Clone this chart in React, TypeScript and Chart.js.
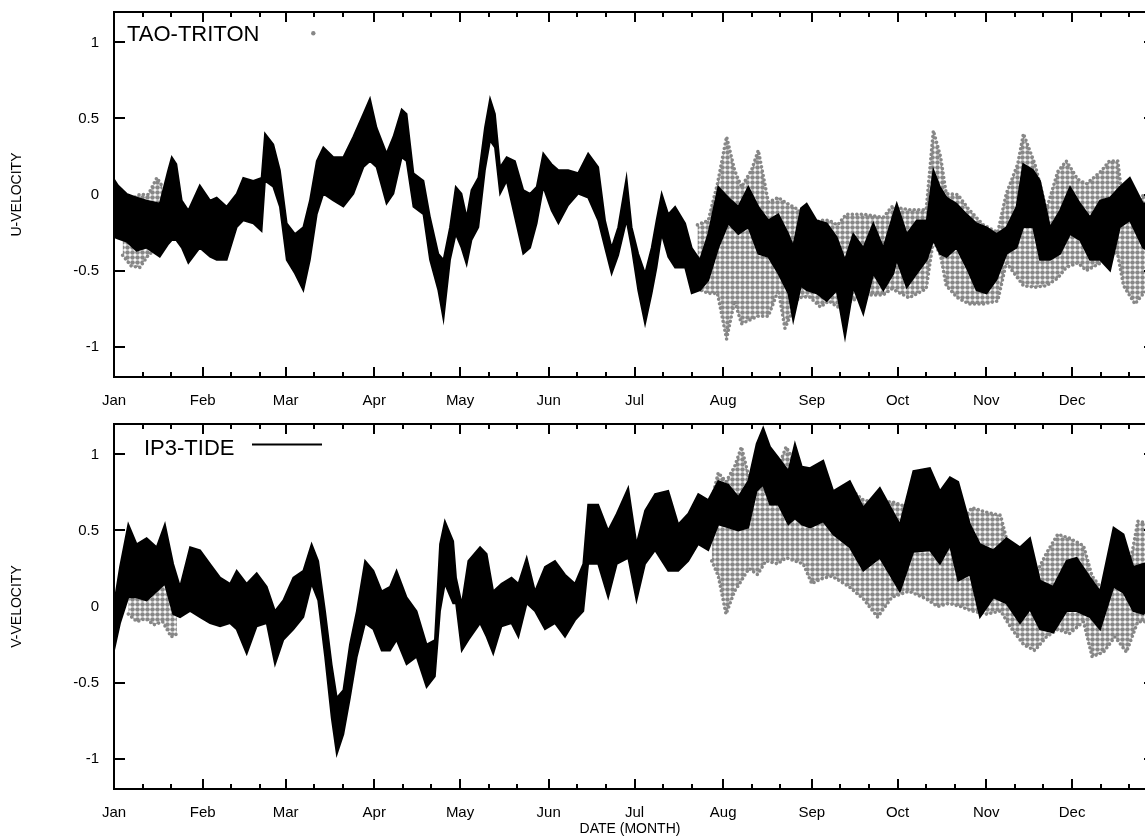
import React, { useEffect, useRef } from 'react';
import { Chart, registerables } from 'chart.js';

Chart.register(...registerables);

// ---- axis definitions (day of year, leap year) ----
const MONTH_STARTS = [0, 31, 60, 91, 121, 152, 182, 213, 244, 274, 305, 335];
const MONTH_LABELS = ['Jan', 'Feb', 'Mar', 'Apr', 'May', 'Jun', 'Jul', 'Aug', 'Sep', 'Oct', 'Nov', 'Dec'];
const MINOR_TICK_DAYS = MONTH_STARTS.flatMap((d) => [d + 10, d + 20]);
const Y_TICKS = [-1, -0.5, 0, 0.5, 1];
const X_MAX = 364;

// ---- U-velocity, IP3-TIDE (black band: upper / lower envelope) ----
const U_DAYS = [0, 1.4, 4.4, 7.9, 11.4, 16, 18.8, 20.2, 21.8, 23.7,
  26, 30, 33.6, 35.9, 39.4, 42.9, 45.2, 48.7, 51.6, 52.8,
  55.7, 58, 60.4, 63.3, 66.2, 68.5, 70.9, 73.2, 76.7, 80.2,
  83.7, 87.2, 89.5, 91.8, 95.3, 97.7, 100.6, 102.3, 104.7, 108.2,
  110.5, 113.4, 115.2, 117.5, 119.5, 121.5, 123.3, 125, 127.4, 129.7,
  131.5, 133.2, 135, 137.3, 140.2, 143.1, 145.5, 147.8, 150.1, 153,
  155.4, 158.8, 162.3, 165.8, 169.3, 171.7, 174, 176.3, 179.2, 181,
  183.3, 185.7, 188, 189.7, 191.5, 193.8, 196.2, 199.7, 202, 204.9,
  207.8, 211.3, 214.8, 218.3, 221.8, 225.3, 228.8, 232.3, 235.8, 237.5,
  240.2, 242.2, 245.7, 249.2, 252.7, 255.6, 258.5, 262, 265.5, 269,
  272.5, 273.7, 277.2, 280.7, 284.2, 286.5, 288.8, 291.1, 294.6, 298.1,
  301.6, 305.1, 308.6, 312.1, 315.6, 317.9, 321.4, 323.8, 327.3, 330.8,
  334.3, 337.8, 341.3, 344.8, 348.3, 351.7, 355.2, 359.8, 364];
const U_HI = [0.10, 0.06, 0.005, -0.02, -0.04, -0.06, 0.15, 0.245, 0.20, -0.04,
  -0.105, 0.06, -0.04, -0.02, -0.08, 0.005, 0.11, 0.09, 0.11, 0.40,
  0.33, 0.16, -0.19, -0.26, -0.215, -0.04, 0.22, 0.31, 0.245, 0.245,
  0.38, 0.53, 0.63, 0.44, 0.27, 0.38, 0.56, 0.53, 0.14, 0.09,
  -0.15, -0.39, -0.43, -0.215, 0.05, 0.005, -0.15, 0.03, 0.11, 0.44,
  0.63, 0.53, 0.18, 0.245, 0.22, 0.03, 0.005, 0.05, 0.27, 0.20,
  0.16, 0.16, 0.14, 0.27, 0.18, -0.17, -0.35, -0.215, 0.11, -0.215,
  -0.39, -0.52, -0.35, -0.17, 0.005, -0.13, -0.08, -0.19, -0.35, -0.43,
  -0.26, 0.05, -0.02, -0.08, 0.05, -0.08, -0.17, -0.13, -0.26, -0.34,
  -0.09, -0.06, -0.17, -0.19, -0.28, -0.43, -0.26, -0.35, -0.19, -0.35,
  -0.13, -0.06, -0.26, -0.17, -0.17, 0.16, 0.05, -0.02, -0.06, -0.13,
  -0.19, -0.215, -0.26, -0.215, -0.08, 0.20, 0.16, 0.09, -0.215, -0.105,
  0.05, -0.06, -0.15, -0.04, -0.02, 0.05, 0.11, -0.06, -0.05];
const U_LO = [-0.28, -0.29, -0.31, -0.37, -0.35, -0.41, -0.33, -0.30, -0.30, -0.35,
  -0.45, -0.35, -0.41, -0.43, -0.43, -0.215, -0.17, -0.19, -0.24, 0.09,
  0.05, -0.08, -0.43, -0.52, -0.63, -0.43, -0.13, 0.005, -0.04, -0.08,
  0.005, 0.18, 0.22, 0.18, -0.06, 0.005, 0.245, 0.22, -0.08, -0.13,
  -0.43, -0.63, -0.82, -0.43, -0.26, -0.35, -0.46, -0.30, -0.215, 0.16,
  0.355, 0.31, 0.005, 0.09, -0.15, -0.39, -0.35, -0.19, 0.05, -0.105,
  -0.19, -0.07, 0.005, -0.02, -0.17, -0.35, -0.52, -0.40, -0.17, -0.35,
  -0.63, -0.85, -0.65, -0.48, -0.26, -0.41, -0.48, -0.48, -0.65, -0.63,
  -0.565, -0.35, -0.19, -0.26, -0.215, -0.39, -0.41, -0.52, -0.65, -0.83,
  -0.60, -0.63, -0.65, -0.70, -0.63, -0.94, -0.61, -0.785, -0.52, -0.63,
  -0.52, -0.43, -0.61, -0.52, -0.43, -0.30, -0.39, -0.41, -0.35, -0.48,
  -0.63, -0.65, -0.56, -0.39, -0.35, -0.215, -0.215, -0.43, -0.43, -0.39,
  -0.26, -0.30, -0.43, -0.43, -0.50, -0.215, -0.17, -0.35, -0.40];

// ---- U-velocity, TAO-TRITON observations (visible grey cloud envelope) ----
const U_OBS_JAN_DAYS = [3, 6, 9, 12, 15, 17];
const U_OBS_JAN_HI = [-0.05, -0.03, 0.0, 0.0, 0.11, 0.05];
const U_OBS_JAN_LO = [-0.40, -0.47, -0.48, -0.40, -0.35, -0.30];
const U_OBS_DAYS = [204, 207.8, 211, 214.2, 217, 219.4, 222.9, 225.3, 228.8, 232.3,
  234.6, 239.3, 243, 247, 250, 253, 256, 262, 269, 272,
  278, 284, 286.5, 289, 291, 295, 299, 304, 309, 312,
  316, 318, 322, 326, 330, 333, 337, 340, 345, 348,
  351, 353, 357, 360, 364];
const U_OBS_HI = [-0.2, -0.17, 0.07, 0.38, 0.16, 0.05, 0.16, 0.29, -0.05, -0.02,
  -0.05, -0.1, -0.2, -0.17, -0.17, -0.2, -0.13, -0.13, -0.15, -0.08,
  -0.1, -0.1, 0.42, 0.25, 0.005, 0.0, -0.1, -0.2, -0.25, 0.005,
  0.2, 0.40, 0.2, -0.1, 0.15, 0.22, 0.1, 0.07, 0.15, 0.22,
  0.22, -0.1, -0.1, 0.0, -0.1];
const U_OBS_LO = [-0.62, -0.65, -0.65, -0.95, -0.70, -0.85, -0.82, -0.80, -0.80, -0.63,
  -0.88, -0.68, -0.67, -0.74, -0.70, -0.74, -0.72, -0.66, -0.66, -0.62,
  -0.68, -0.62, -0.30, -0.40, -0.6, -0.68, -0.72, -0.72, -0.70, -0.45,
  -0.55, -0.6, -0.61, -0.60, -0.55, -0.48, -0.45, -0.50, -0.45, -0.35,
  -0.40, -0.60, -0.72, -0.65, -0.6];

// ---- V-velocity, IP3-TIDE ----
const V_DAYS = [0, 2.1, 5, 7.9, 11.4, 14.9, 17.8, 20.7, 23.1, 26.6,
  30.1, 33.6, 37.1, 40.6, 42.9, 46.4, 49.9, 53.4, 56.3, 59.2,
  62.7, 66.2, 69.1, 71.4, 73.8, 76.1, 77.9, 80.2, 82.5, 84.9,
  87.8, 90.7, 93.6, 96.5, 98.8, 102.3, 105.8, 109.3, 112.2, 114,
  115.7, 118.6, 119.6, 121.6, 123.9, 128, 130.3, 132.6, 135.5, 139,
  141.4, 144.3, 147.2, 150.7, 154.2, 157.7, 161.2, 164.1, 165.8, 169.3,
  172.8, 175.8, 179.8, 182.7, 185.7, 189.2, 193.8, 197.3, 200.8, 204.3,
  207.8, 211.3, 214.8, 218.3, 221.8, 224.7, 227, 229.4, 232.3, 235.8,
  238.1, 240.5, 243.4, 248, 251.5, 257.3, 262, 267.8, 274.8, 279.5,
  285.3, 288.8, 292.3, 295.2, 299.3, 302.8, 307.5, 312.1, 316.8, 320.3,
  323.8, 328.4, 333.1, 336.6, 341.3, 344.8, 349.5, 353, 356.4, 359.9,
  364];
const V_HI = [0.016, 0.26, 0.54, 0.41, 0.45, 0.39, 0.54, 0.28, 0.13, 0.39,
  0.37, 0.28, 0.19, 0.15, 0.235, 0.15, 0.22, 0.13, -0.03, 0.04,
  0.19, 0.235, 0.41, 0.30, -0.03, -0.38, -0.60, -0.55, -0.25, -0.03,
  0.30, 0.235, 0.10, 0.13, 0.235, 0.06, -0.03, -0.25, -0.22, 0.41,
  0.56, 0.43, 0.19, 0.016, 0.30, 0.39, 0.345, 0.10, 0.15, 0.19,
  0.15, 0.32, 0.10, 0.26, 0.30, 0.21, 0.15, 0.28, 0.67, 0.67,
  0.50, 0.61, 0.78, 0.41, 0.63, 0.74, 0.76, 0.54, 0.61, 0.74,
  0.70, 0.825, 0.80, 0.72, 0.825, 1.07, 1.175, 1.05, 0.98, 0.89,
  1.07, 0.92, 0.91, 0.96, 0.76, 0.825, 0.65, 0.78, 0.54, 0.89,
  0.91, 0.76, 0.85, 0.82, 0.54, 0.41, 0.37, 0.45, 0.39, 0.45,
  0.17, 0.13, 0.30, 0.32, 0.19, 0.10, 0.52, 0.475, 0.26, 0.28,
  0.30];
const V_LO = [-0.29, -0.11, 0.06, 0.06, 0.04, 0.10, 0.15, -0.05, -0.07, -0.03,
  -0.07, -0.11, -0.13, -0.11, -0.15, -0.31, -0.13, -0.11, -0.38, -0.22,
  -0.15, -0.07, 0.15, 0.04, -0.33, -0.73, -0.97, -0.84, -0.60, -0.33,
  -0.11, -0.15, -0.29, -0.29, -0.22, -0.38, -0.33, -0.53, -0.46, -0.03,
  0.15, 0.02, 0.02, -0.29, -0.22, -0.11, -0.20, -0.31, -0.13, -0.11,
  -0.20, 0.02, -0.03, -0.15, -0.11, -0.20, -0.09, -0.03, 0.28, 0.28,
  0.06, 0.28, 0.32, 0.04, 0.28, 0.37, 0.235, 0.235, 0.30, 0.41,
  0.37, 0.54, 0.52, 0.50, 0.52, 0.76, 0.80, 0.67, 0.67, 0.54,
  0.58, 0.54, 0.52, 0.56, 0.475, 0.39, 0.235, 0.32, 0.10, 0.36,
  0.37, 0.28, 0.40, 0.17, 0.21, -0.07, 0.06, 0.02, -0.11, -0.02,
  -0.15, -0.17, -0.03, -0.03, -0.07, -0.15, 0.13, 0.09, -0.03, -0.05,
  0.02];

// ---- V-velocity, TAO-TRITON observations ----
const V_OBS_JAN_DAYS = [5, 8, 11, 14, 17, 20, 22];
const V_OBS_JAN_HI = [0.2, 0.15, 0.2, 0.18, 0.30, 0.25, 0.15];
const V_OBS_JAN_LO = [-0.05, -0.1, -0.08, -0.12, -0.10, -0.20, -0.18];
const V_OBS_DAYS = [209, 211.3, 214, 217, 219.4, 222, 225, 228, 232, 235,
  238, 241, 244, 247, 251, 257, 262, 267, 272, 278,
  284, 288, 292, 296, 300, 305, 310, 314, 318, 322,
  326, 330, 334, 339, 342, 346, 350, 354, 358, 361,
  364];
const V_OBS_HI = [0.7, 0.88, 0.82, 0.92, 1.05, 0.85, 0.85, 0.75, 0.9, 1.05,
  0.95, 0.75, 0.6, 0.62, 0.69, 0.78, 0.7, 0.68, 0.69, 0.65,
  0.6, 0.5, 0.45, 0.55, 0.65, 0.62, 0.6, 0.3, 0.25, 0.2,
  0.35, 0.475, 0.45, 0.4, 0.2, 0.1, 0.235, 0.15, 0.56, 0.55,
  0.5];
const V_OBS_LO = [0.30, 0.20, -0.05, 0.10, 0.17, 0.25, 0.21, 0.3, 0.28, 0.32,
  0.30, 0.28, 0.15, 0.18, 0.2, 0.13, 0.05, -0.07, 0.06, 0.1,
  0.05, 0.0, 0.02, 0.0, -0.03, -0.05, -0.03, -0.15, -0.25, -0.29,
  -0.2, -0.15, -0.18, -0.10, -0.33, -0.30, -0.2, -0.30, -0.1, -0.1,
  -0.1];

const FONT = '"Liberation Sans", Arial, Helvetica, sans-serif';
const OBS_GRAY = '#878787';
const CANVAS_W = 1175;

if (typeof document !== 'undefined') {
  document.body.style.margin = '0';
  document.body.style.overflow = 'hidden';
  document.documentElement.style.overflow = 'hidden';
}

const toPoints = (days: number[], vals: number[]) => days.map((d, i) => ({ x: d, y: vals[i] }));

function dotPattern(): any {
  const c = document.createElement('canvas');
  c.width = 5;
  c.height = 5;
  const g = c.getContext('2d');
  if (!g) return OBS_GRAY;
  g.fillStyle = OBS_GRAY;
  g.beginPath();
  g.arc(2.5, 2.5, 2.3, 0, Math.PI * 2);
  g.fill();
  return g.createPattern(c, 'repeat') || OBS_GRAY;
}

const gnuFrame = {
  id: 'gnuFrame',
  afterDraw(chart: any, _args: any, opts: any) {
    const { ctx, chartArea: a } = chart;
    const xs = chart.scales.x;
    const ys = chart.scales.y;
    ctx.save();
    ctx.strokeStyle = '#000';
    ctx.lineWidth = 2;
    ctx.beginPath();
    Y_TICKS.forEach((v) => {
      const p = Math.round(ys.getPixelForValue(v));
      ctx.moveTo(a.left, p);
      ctx.lineTo(a.left + 11, p);
      ctx.moveTo(a.right, p);
      ctx.lineTo(a.right - 11, p);
    });
    MONTH_STARTS.forEach((d) => {
      const p = Math.round(xs.getPixelForValue(d));
      ctx.moveTo(p, a.bottom);
      ctx.lineTo(p, a.bottom - 10);
      ctx.moveTo(p, a.top);
      ctx.lineTo(p, a.top + 10);
    });
    MINOR_TICK_DAYS.forEach((d) => {
      const p = Math.round(xs.getPixelForValue(d));
      ctx.moveTo(p, a.bottom);
      ctx.lineTo(p, a.bottom - 5);
      ctx.moveTo(p, a.top);
      ctx.lineTo(p, a.top + 5);
    });
    ctx.stroke();
    ctx.strokeRect(a.left, a.top, a.right - a.left, a.bottom - a.top);

    // key
    ctx.fillStyle = '#000';
    ctx.font = `22px ${FONT}`;
    ctx.textAlign = 'left';
    ctx.textBaseline = 'alphabetic';
    ctx.fillText(opts.keyText, a.left + opts.keyDx, a.top + opts.keyDy);
    if (opts.keyKind === 'point') {
      ctx.fillStyle = OBS_GRAY;
      ctx.beginPath();
      ctx.arc(a.left + 199.3, a.top + 21.3, 2.2, 0, Math.PI * 2);
      ctx.fill();
    } else {
      ctx.beginPath();
      ctx.moveTo(a.left + 138, a.top + 20.5);
      ctx.lineTo(a.left + 208, a.top + 20.5);
      ctx.stroke();
    }

    // axis titles
    ctx.fillStyle = '#000';
    ctx.font = `14px ${FONT}`;
    ctx.textAlign = 'center';
    ctx.textBaseline = 'middle';
    ctx.save();
    ctx.translate(17, (a.top + a.bottom) / 2);
    ctx.rotate(-Math.PI / 2);
    ctx.fillText(opts.yTitle, 0, 0);
    ctx.restore();
    if (opts.xTitle) {
      ctx.fillText(opts.xTitle, 630, opts.xTitleY);
    }
    ctx.restore();
  },
};

function buildConfig(kind: 'u' | 'v', height: number): any {
  const isU = kind === 'u';
  const pattern = dotPattern();
  const xH = height - 12 - 365;
  const black = { borderColor: '#000', borderWidth: 1.8, pointRadius: 0, tension: 0 };
  const obs = {
    borderColor: OBS_GRAY, borderWidth: 3.6, borderDash: [0, 4.5], borderCapStyle: 'round',
    pointRadius: 0, tension: 0,
  };
  const datasets = [
    { label: 'IP3-TIDE', data: toPoints(isU ? U_DAYS : V_DAYS, isU ? U_HI : V_HI), ...black, fill: false },
    { label: 'IP3-TIDE low', data: toPoints(isU ? U_DAYS : V_DAYS, isU ? U_LO : V_LO), ...black, fill: '-1', backgroundColor: '#000' },
    { label: 'TAO-TRITON jan', data: toPoints(isU ? U_OBS_JAN_DAYS : V_OBS_JAN_DAYS, isU ? U_OBS_JAN_HI : V_OBS_JAN_HI), ...obs, fill: false },
    { label: 'TAO-TRITON jan low', data: toPoints(isU ? U_OBS_JAN_DAYS : V_OBS_JAN_DAYS, isU ? U_OBS_JAN_LO : V_OBS_JAN_LO), ...obs, fill: '-1', backgroundColor: pattern },
    { label: 'TAO-TRITON', data: toPoints(isU ? U_OBS_DAYS : V_OBS_DAYS, isU ? U_OBS_HI : V_OBS_HI), ...obs, fill: false },
    { label: 'TAO-TRITON low', data: toPoints(isU ? U_OBS_DAYS : V_OBS_DAYS, isU ? U_OBS_LO : V_OBS_LO), ...obs, fill: '-1', backgroundColor: pattern },
  ];
  const tickFont = { family: FONT, size: 15 };
  return {
    type: 'line',
    data: { datasets },
    plugins: [gnuFrame],
    options: {
      animation: false,
      responsive: false,
      devicePixelRatio: 1,
      events: [],
      layout: { padding: { left: 0, top: 12, right: CANVAS_W - 1155, bottom: 0 } },
      plugins: {
        legend: { display: false },
        tooltip: { enabled: false },
        gnuFrame: isU
          ? { keyText: 'TAO-TRITON', keyKind: 'point', keyDx: 13, keyDy: 28.7, yTitle: 'U-VELOCITY' }
          : { keyText: 'IP3-TIDE', keyKind: 'line', keyDx: 30, keyDy: 30.5, yTitle: 'V-VELOCITY', xTitle: 'DATE (MONTH)', xTitleY: 417 },
      },
      scales: {
        x: {
          type: 'linear',
          min: 0,
          max: X_MAX,
          grid: { display: false, drawTicks: false },
          border: { display: false },
          ticks: {
            autoSkip: false, maxRotation: 0, minRotation: 0, padding: 15, color: '#000', font: tickFont,
            callback: (_v: any, i: number) => MONTH_LABELS[i] ?? '',
          },
          afterBuildTicks: (s: any) => { s.ticks = MONTH_STARTS.map((v) => ({ value: v })); },
          afterFit: (s: any) => {
            s.height = xH;
            s.paddingLeft = 0; s.paddingRight = 0; s.paddingTop = 0; s.paddingBottom = 0;
          },
        },
        y: {
          type: 'linear',
          min: -1.2,
          max: 1.2,
          grid: { display: false, drawTicks: false },
          border: { display: false },
          ticks: { padding: 15, color: '#000', font: tickFont, callback: (v: any) => String(v) },
          afterBuildTicks: (s: any) => { s.ticks = Y_TICKS.map((v) => ({ value: v })); },
          afterFit: (s: any) => {
            s.width = 114;
            s.paddingLeft = 0; s.paddingRight = 0; s.paddingTop = 0; s.paddingBottom = 0;
          },
        },
      },
    },
  };
}

function Panel({ kind, top, height }: { kind: 'u' | 'v'; top: number; height: number }) {
  const ref = useRef<HTMLCanvasElement>(null);
  useEffect(() => {
    if (!ref.current) return;
    const chart = new Chart(ref.current, buildConfig(kind, height));
    return () => chart.destroy();
  }, [kind, height]);
  return (
    <canvas
      ref={ref}
      width={CANVAS_W}
      height={height}
      style={{ position: 'absolute', left: 0, top, width: CANVAS_W, height }}
    />
  );
}

export default function App() {
  return (
    <div style={{ position: 'relative', width: 1145, height: 839, overflow: 'hidden', background: '#fff' }}>
      <Panel kind="u" top={0} height={412} />
      <Panel kind="v" top={412} height={427} />
    </div>
  );
}
